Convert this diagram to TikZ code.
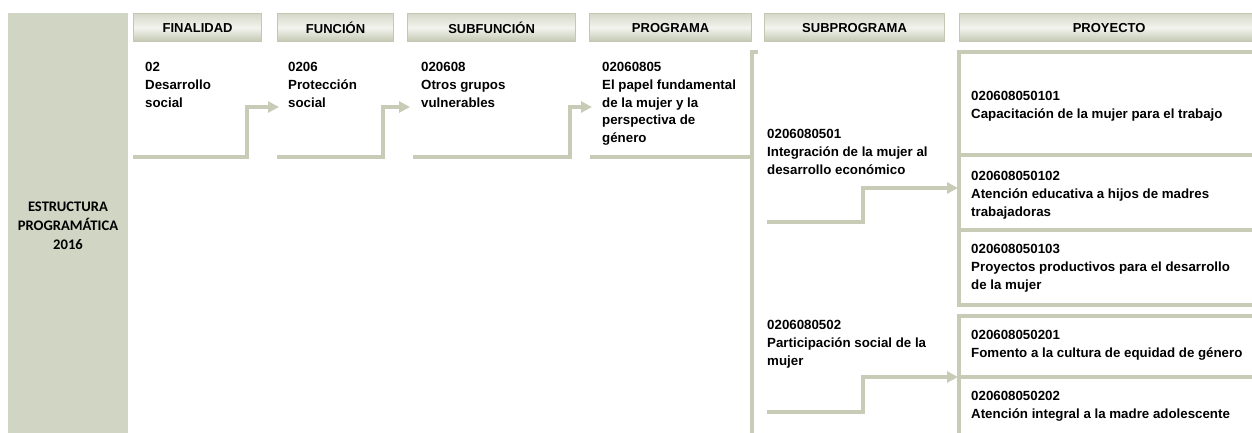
\documentclass[tikz,border=0pt]{standalone}
\usepackage{fontspec}
\setmainfont{Liberation Sans}
\newfontfamily\calibfont{Carlito}
\usetikzlibrary{arrows.meta}
\definecolor{sage}{HTML}{D1D5C4}
\definecolor{sageline}{HTML}{C8CCB7}
\definecolor{sagedark}{HTML}{C3C8B2}
\definecolor{sagelight}{HTML}{F3F4EE}

\begin{document}
\begin{tikzpicture}[x=1pt,y=-1pt
  ,hdr/.style={draw=sagedark,line width=1.2pt,top color=sagedark!70,bottom color=sagedark
              ,middle color=sagelight,inner sep=0pt,minimum height=28pt,anchor=north west
              ,font=\bfseries\fontsize{13}{15}\selectfont}
  ,cell/.style={anchor=north west,align=left,inner sep=0pt
               ,font=\bfseries\fontsize{13.3}{17.8}\selectfont}
  ,link/.style={draw=sageline,line width=4pt,-{Triangle[length=11pt,width=11pt]}}
  ,frame/.style={draw=sageline,line width=4pt}]
  \useasboundingbox (0,0) rectangle (1252,433);

  % left band
  \node[fill=sage,minimum width=120pt,minimum height=425pt,anchor=north west,inner sep=0pt]
    (band) at (8,13) {};
  \node[align=center,inner sep=0pt,anchor=north
       ,font=\calibfont\bfseries\fontsize{14.6}{19}\selectfont]
    (est) at (68,202) {ESTRUCTURA\\PROGRAMÁTICA\\2016};

  % headers
  \node[hdr,minimum width=128pt] (h-fin)  at (133,13) {FINALIDAD};
  \node[hdr,minimum width=116pt] (h-fun)  at (277,13) {FUNCIÓN};
  \node[hdr,minimum width=168pt] (h-subf) at (407,13) {SUBFUNCIÓN};
  \node[hdr,minimum width=162pt] (h-prog) at (589,13) {PROGRAMA};
  \node[hdr,minimum width=180pt] (h-subp) at (764,13) {SUBPROGRAMA};
  \node[hdr,minimum width=299pt] (h-proy) at (959,13) {PROYECTO};

  % cells
  \node[cell] (fin)  at (145,62) {02\\Desarrollo\\social};
  \node[cell] (fun)  at (288,62) {0206\\Protección\\social};
  \node[cell] (subf) at (421,62) {020608\\Otros grupos\\vulnerables};
  \node[cell] (prog) at (602,62) {02060805\\El papel fundamental\\de la mujer y la\\perspectiva de\\género};
  \node[cell] (sp1)  at (767,129) {0206080501\\Integración de la mujer al\\desarrollo económico};
  \node[cell] (sp2)  at (767,320) {0206080502\\Participación social de la\\mujer};
  \node[cell] (py1)  at (971,91)  {020608050101\\Capacitación de la mujer para el trabajo};
  \node[cell] (py2)  at (971,171) {020608050102\\Atención educativa a hijos de madres\\trabajadoras};
  \node[cell] (py3)  at (971,244) {020608050103\\Proyectos productivos para el desarrollo\\de la mujer};
  \node[cell] (py4)  at (971,330) {020608050201\\Fomento a la cultura de equidad de género};
  \node[cell] (py5)  at (971,391) {020608050202\\Atención integral a la madre adolescente};

  % connectors
  \coordinate (fin-out)  at (133,157);
  \coordinate (fun-in)   at (279,107);
  \coordinate (fun-out)  at (277,157);
  \coordinate (subf-in)  at (410,107);
  \coordinate (subf-out) at (413,157);
  \coordinate (prog-in)  at (592,107);
  \coordinate (prog-out) at (590,157);
  \coordinate (brk-top)  at (758,52);
  \coordinate (brk-bot)  at (752,436);
  \coordinate (sp1-out)  at (767,222);
  \coordinate (py1-in)   at (958,188);
  \coordinate (sp2-out)  at (767,412);
  \coordinate (py2-in)   at (958,377);

  \draw[link] (fin-out) -- ++(114,0) |- (fun-in);
  \draw[link] (fun-out) -- ++(106,0) |- (subf-in);
  \draw[link] (subf-out) -- ++(157,0) |- (prog-in);
  \draw[frame] (prog-out) -- (brk-bot |- prog-out);
  \draw[frame] (brk-top) -- (brk-bot |- brk-top) -- (brk-bot);
  \draw[link] (sp1-out) -- ++(96,0) |- (py1-in);
  \draw[link] (sp2-out) -- ++(96,0) |- (py2-in);

  % project frames
  \draw[frame] (1258,52) -- (959,52) -- (959,305) -- (1258,305);
  \draw[frame] (959,155) -- (1258,155) (959,230) -- (1258,230);
  \draw[frame] (1258,316) -- (959,316) -- (959,436);
  \draw[frame] (959,377) -- (1258,377);
\end{tikzpicture}
\end{document}
